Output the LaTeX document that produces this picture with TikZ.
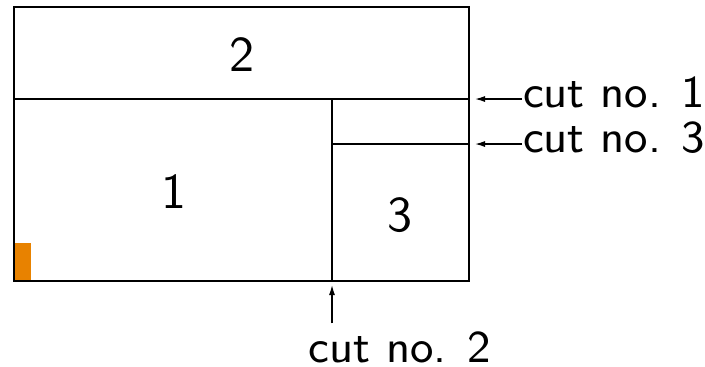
\documentclass[tikz,border=0pt]{standalone}
\usepackage[dvipsnames,rgb]{xcolor}
\usepackage{tikz}
\usetikzlibrary{positioning,arrows.meta}

\definecolor{cornercolor}{RGB}{232,130,0}

\begin{document}
\begin{tikzpicture}[x=0.2pt, y=-0.2pt,
    font=\sffamily\fontsize{9.1}{11}\selectfont,
    cutlabel/.style={inner sep=0pt},
    cutarrow/.style={-{Latex[length=2pt,width=1.2pt]}, line width=0.25pt}]
    \useasboundingbox (0,0) rectangle (705,366);

    % sheet corners and cut ends
    \coordinate(nw) at (14,7);
    \coordinate(se) at (469,281);
    \coordinate(c1w) at (14,99);
    \coordinate(c1e) at (469,99);
    \coordinate(c2n) at (332,99);
    \coordinate(c2s) at (332,281);
    \coordinate(c3w) at (332,144);
    \coordinate(c3e) at (469,144);

    \fill[cornercolor] (14,243) rectangle (31,281);
    \draw (nw) rectangle (se);
    \draw (c1w) -- (c1e);
    \draw (c2n) -- (c2s);
    \draw (c3w) -- (c3e);

    % pieces
    \node(p2) at (242,55) {\fontsize{10}{12}\selectfont 2};
    \node(p1) at (174,192) {\fontsize{10}{12}\selectfont 1};
    \node(p3) at (400,215) {\fontsize{10}{12}\selectfont 3};

    % labels of the cuts
    \node[cutlabel, anchor=mid west](t1) at (522,97) {cut no. 1};
    \node[cutlabel, anchor=mid west](t3) at (522,142) {cut no. 3};
    \node[cutlabel, anchor=base](t2) at (400,362) {cut no. 2};

    \draw[cutarrow] (t1.west |- c1e) -- ([xshift=1.2pt]c1e);
    \draw[cutarrow] (t3.west |- c3e) -- ([xshift=1.2pt]c3e);
    \draw[cutarrow, shorten <=1.4pt] (t2.north -| c2s) -- ([yshift=-0.8pt]c2s);
\end{tikzpicture}
\end{document}
